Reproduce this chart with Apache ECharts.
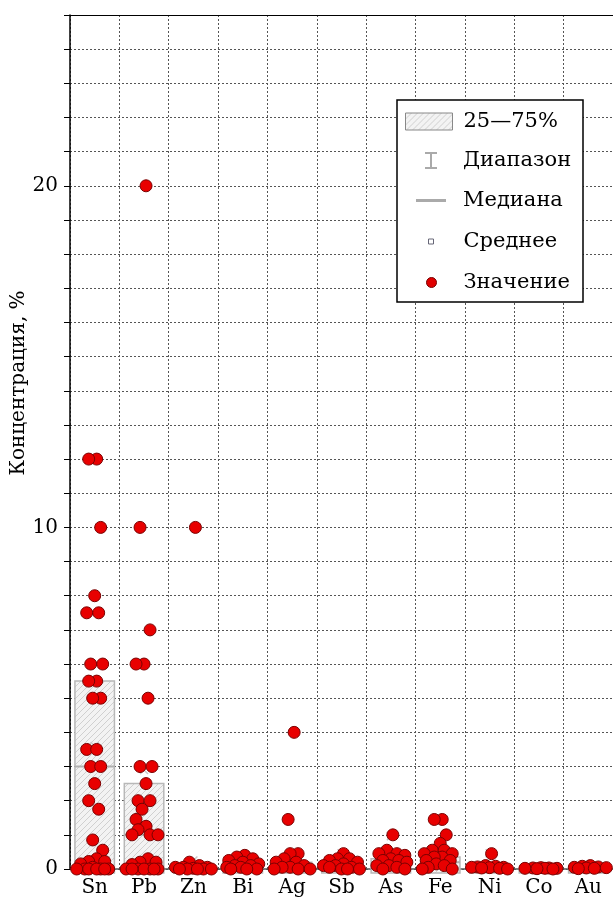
<!DOCTYPE html>
<html>
<head>
<meta charset="utf-8">
<script src="https://cdn.jsdelivr.net/npm/echarts@6/dist/echarts.min.js"></script>
<style>
html,body{margin:0;padding:0;background:#fff;}
#chart{width:613px;height:902px;}
</style>
</head>
<body>
<div id="chart"></div>
<script>
// ---------- data ----------
const categories = ['Sn','Pb','Zn','Bi','Ag','Sb','As','Fe','Ni','Co','Au'];
const q1Values = [0,0,0,0,0,0,0,0,0,0,0];
const q3Values = [5.5,2.5,0.15,0.2,0.2,0.2,0.3,0.35,0.05,0.03,0.05];
const medianValues = [3,1,0.05,0.1,0.05,0.1,0.2,0.2,0.03,0.02,0.03];
const meanValues = [3.6,2.9,0.25,0.15,0.35,0.46,0.96,0.62,0.46,0.02,0.04];

const valuesSn = [12,12,10,8,7.5,7.5,6,6,5.5,5.5,5,5,3.5,3.5,3,3,2.5,2,1.75,0.85,0.55,0.3,0.22,0.22,0.15,0.05,0,0,0,0,0,0,0];
const valuesPb = [20,10,7,6,6,5,3,3,2.5,2,2,1.75,1.45,1.25,1.15,1,1,1,0.3,0.2,0.2,0.13,0,0,0,0,0,0,0];
const valuesZn = [10,0.2,0.1,0.05,0.05,0.05,0.02,0,0,0,0,0];
const valuesBi = [0.4,0.35,0.3,0.25,0.2,0.15,0.1,0.1,0.05,0.05,0,0,0];
const valuesAg = [4,1.45,0.45,0.45,0.3,0.2,0.2,0.1,0.05,0.05,0,0,0];
const valuesSb = [0.45,0.3,0.3,0.25,0.2,0.15,0.1,0.1,0.05,0.05,0,0,0];
const valuesAs = [1.0,0.55,0.45,0.45,0.4,0.3,0.25,0.25,0.2,0.1,0.1,0.05,0,0];
const valuesFe = [1.45,1.45,1.0,0.75,0.55,0.55,0.45,0.45,0.35,0.35,0.25,0.25,0.15,0.1,0.05,0,0];
const valuesNi = [0.45,0.1,0.08,0.06,0.05,0.05,0.04,0.03,0.02,0];
const valuesCo = [0.04,0.03,0.03,0.02,0.02,0.02,0.01,0];
const valuesAu = [0.1,0.08,0.06,0.05,0.04,0.03,0.02,0.01];
const allValues = [valuesSn,valuesPb,valuesZn,valuesBi,valuesAg,valuesSb,valuesAs,valuesFe,valuesNi,valuesCo,valuesAu];

const FONT = 'DejaVu Serif';

// hatch pattern
const hatch = document.createElement('canvas');
hatch.width = 6; hatch.height = 6;
(function(){
  const c = hatch.getContext('2d');
  c.fillStyle = '#f3f3f3'; c.fillRect(0,0,6,6);
  c.strokeStyle = '#d0d0d0'; c.lineWidth = 1;
  c.beginPath();
  c.moveTo(0,6); c.lineTo(6,0);
  c.moveTo(-1,1); c.lineTo(1,-1);
  c.moveTo(5,7); c.lineTo(7,5);
  c.stroke();
})();
const hatchFill = {image: hatch, repeat: 'repeat'};

const boxData = categories.map((c, i) => [i, q1Values[i], q3Values[i]]);
const medData = categories.map((c, i) => [i, medianValues[i]]);
const meanData = categories.map((c, i) => [i, meanValues[i]]);

const chart = echarts.init(document.getElementById('chart'), null, {renderer:'canvas'});
const gridLine = {show:true, lineStyle:{color:'#555', width:1, type:[2,2]}};
const textBase = {fontFamily: FONT, fontSize: 20, color: '#000'};
const legendText = {fontFamily: FONT, fontSize: 21, color: '#000'};

const option = {
  animation: false,
  grid: {left: 70, right: 0, top: 15, bottom: 33, containLabel: false},
  xAxis: [
    {type:'category', data: categories, boundaryGap: true, offset: 4,
     axisLine:{show:true, lineStyle:{color:'#555', width:1.5}},
     axisTick:{show:false},
     axisLabel:{...textBase, margin: 5},
     splitLine: gridLine},
    {type:'value', min:0, max:11, position:'top',
     axisLine:{show:true, onZero:false, lineStyle:{color:'#000', width:1.2}},
     axisTick:{show:false}, axisLabel:{show:false}, splitLine:{show:false}}
  ],
  yAxis: {
    type:'value', min:0, max:25, interval:1,
    axisLine:{show:true, lineStyle:{color:'#000', width:1.5}},
    axisTick:{show:true, length:6, lineStyle:{color:'#000', width:1}},
    axisLabel:{...textBase, margin: 12, formatter: v => (v % 10 === 0 ? String(v) : '')},
    splitLine: gridLine
  },
  graphic: [
    {type:'rect', z: 10, shape:{x:397, y:100, width:186, height:202},
     style:{fill:'#fff', stroke:'#000', lineWidth:1.5}},
    {type:'text', z: 10, x: 19, y: 383, rotation: Math.PI/2,
     style:{text:'Концентрация, %', fontFamily: FONT, fontSize: 20, fill:'#000', align:'center', verticalAlign:'middle'}}
  ],
  legend: [
    {z: 20, selectedMode:false, padding:0, left:405, top:111, itemWidth:47, itemHeight:17,
     textStyle:{...legendText, padding:[0,0,0,6]},
     data:[{name:'25—75%', icon:'rect', itemStyle:{color: hatchFill, borderColor:'#888', borderWidth:1}}]},
    {z: 20, selectedMode:false, padding:0, left:425, top:150, itemWidth:12, itemHeight:17,
     textStyle:{...legendText, padding:[0,0,0,21]},
     data:[{name:'Диапазон', icon:'path://M0,0H12V2H7V15H12V17H0V15H5V2H0Z', itemStyle:{color:'#aaa', borderWidth:0}}]},
    {z: 20, selectedMode:false, padding:0, left:416, top:190, itemWidth:30, itemHeight:3,
     textStyle:{...legendText, padding:[0,0,0,12]},
     data:[{name:'Медиана', icon:'rect', itemStyle:{color:'#aaa', borderWidth:0}}]},
    {z: 20, selectedMode:false, padding:0, left:428, top:231, itemWidth:5, itemHeight:5,
     textStyle:{...legendText, padding:[0,0,0,25]},
     data:[{name:'Среднее', icon:'rect', itemStyle:{color:'#fff', borderColor:'#667', borderWidth:1}}]},
    {z: 20, selectedMode:false, padding:0, left:426, top:272, itemWidth:10, itemHeight:10,
     textStyle:{...legendText, padding:[0,0,0,22]},
     data:[{name:'Значение', icon:'circle', itemStyle:{color:'#e00000', borderColor:'#700', borderWidth:1}}]}
  ],
  series: [
    {name:'25—75%', type:'custom', xAxisIndex:0, yAxisIndex:0, z:2, clip:false,
     itemStyle:{color:'#eee'},
     encode:{x:0, y:[1,2]},
     data: boxData,
     renderItem: function(params, api){
       const i = api.value(0);
       const p1 = api.coord([i, api.value(1)]);
       const p3 = api.coord([i, api.value(2)]);
       const w = api.size([1,0])[0] * 0.8;
       return {type:'rect', shape:{x:p1[0]-w/2, y:p3[1], width:w, height:Math.max(p1[1]-p3[1],1) + 4},
         style:{fill: hatchFill, stroke:'#b8b8b8', lineWidth:1.5}};
     }},
    {name:'Диапазон', type:'custom', xAxisIndex:0, yAxisIndex:0, z:2,
     itemStyle:{color:'#aaa'}, data: [],
     renderItem: function(){ return null; }},
    {name:'Медиана', type:'custom', xAxisIndex:0, yAxisIndex:0, z:2, clip:false,
     itemStyle:{color:'#aaa'}, encode:{x:0, y:1},
     data: medData,
     renderItem: function(params, api){
       const i = api.value(0);
       const p = api.coord([i, api.value(1)]);
       const w = api.size([1,0])[0] * 0.8;
       return {type:'line', shape:{x1:p[0]-w/2, y1:p[1], x2:p[0]+w/2, y2:p[1]},
         style:{stroke:'#b0b0b0', lineWidth:2}};
     }},
    {name:'Среднее', type:'custom', xAxisIndex:0, yAxisIndex:0, z:2, clip:false,
     itemStyle:{color:'#ccc'}, encode:{x:0, y:1},
     data: meanData,
     renderItem: function(params, api){
       const i = api.value(0);
       const p = api.coord([i, api.value(1)]);
       const s = 4;
       return {type:'group', children:[
         {type:'line', shape:{x1:p[0]-s, y1:p[1]-s, x2:p[0]+s, y2:p[1]+s}, style:{stroke:'#c8c8c8', lineWidth:1.5}},
         {type:'line', shape:{x1:p[0]-s, y1:p[1]+s, x2:p[0]+s, y2:p[1]-s}, style:{stroke:'#c8c8c8', lineWidth:1.5}}
       ]};
     }},
    {name:'Значение', type:'scatter', xAxisIndex:1, yAxisIndex:0, z:3, clip:false,
     symbol:'circle', symbolSize:12,
     itemStyle:{color:'#e80000', borderColor:'#7a0000', borderWidth:1, opacity:1},
     data: []}
  ]
};
chart.setOption(option);

// jittered placement of points inside each category with overlap avoidance,
// computed in pixel space via the chart's own scales
(function(){
  const pxPerUnitY = Math.abs(chart.convertToPixel({yAxisIndex:0}, 0) - chart.convertToPixel({yAxisIndex:0}, 1));
  const catW = Math.abs(chart.convertToPixel({xAxisIndex:1}, 1) - chart.convertToPixel({xAxisIndex:1}, 0));
  const maxOff = catW * 0.39;
  const minDist = 7;
  const step = 2;
  const base = [0];
  for (let d = step; d <= maxOff; d += step) { base.push(d, -d); }
  const data = [];
  allValues.forEach((arr, c) => {
    const placed = [];
    arr.forEach((v, i) => {
      const pref = ((((i + 1) * 0.6180339887) % 1) - 0.5) * 0.9 * maxOff;
      const cands = base.slice().sort((a, b) => Math.abs(a - pref) - Math.abs(b - pref));
      const py = v * pxPerUnitY;
      let best = null, bestScore = -1;
      for (const dx of cands) {
        let m = Infinity;
        for (const p of placed) {
          const d = Math.hypot(dx - p[0], py - p[1]);
          if (d < m) m = d;
        }
        if (m >= minDist) { best = dx; break; }
        if (m > bestScore) { bestScore = m; best = dx; }
      }
      placed.push([best, py]);
      data.push([c + 0.5 + best / catW, v]);
    });
  });
  chart.setOption({series:[{}, {}, {}, {}, {data: data}]});
})();
</script>
</body>
</html>
